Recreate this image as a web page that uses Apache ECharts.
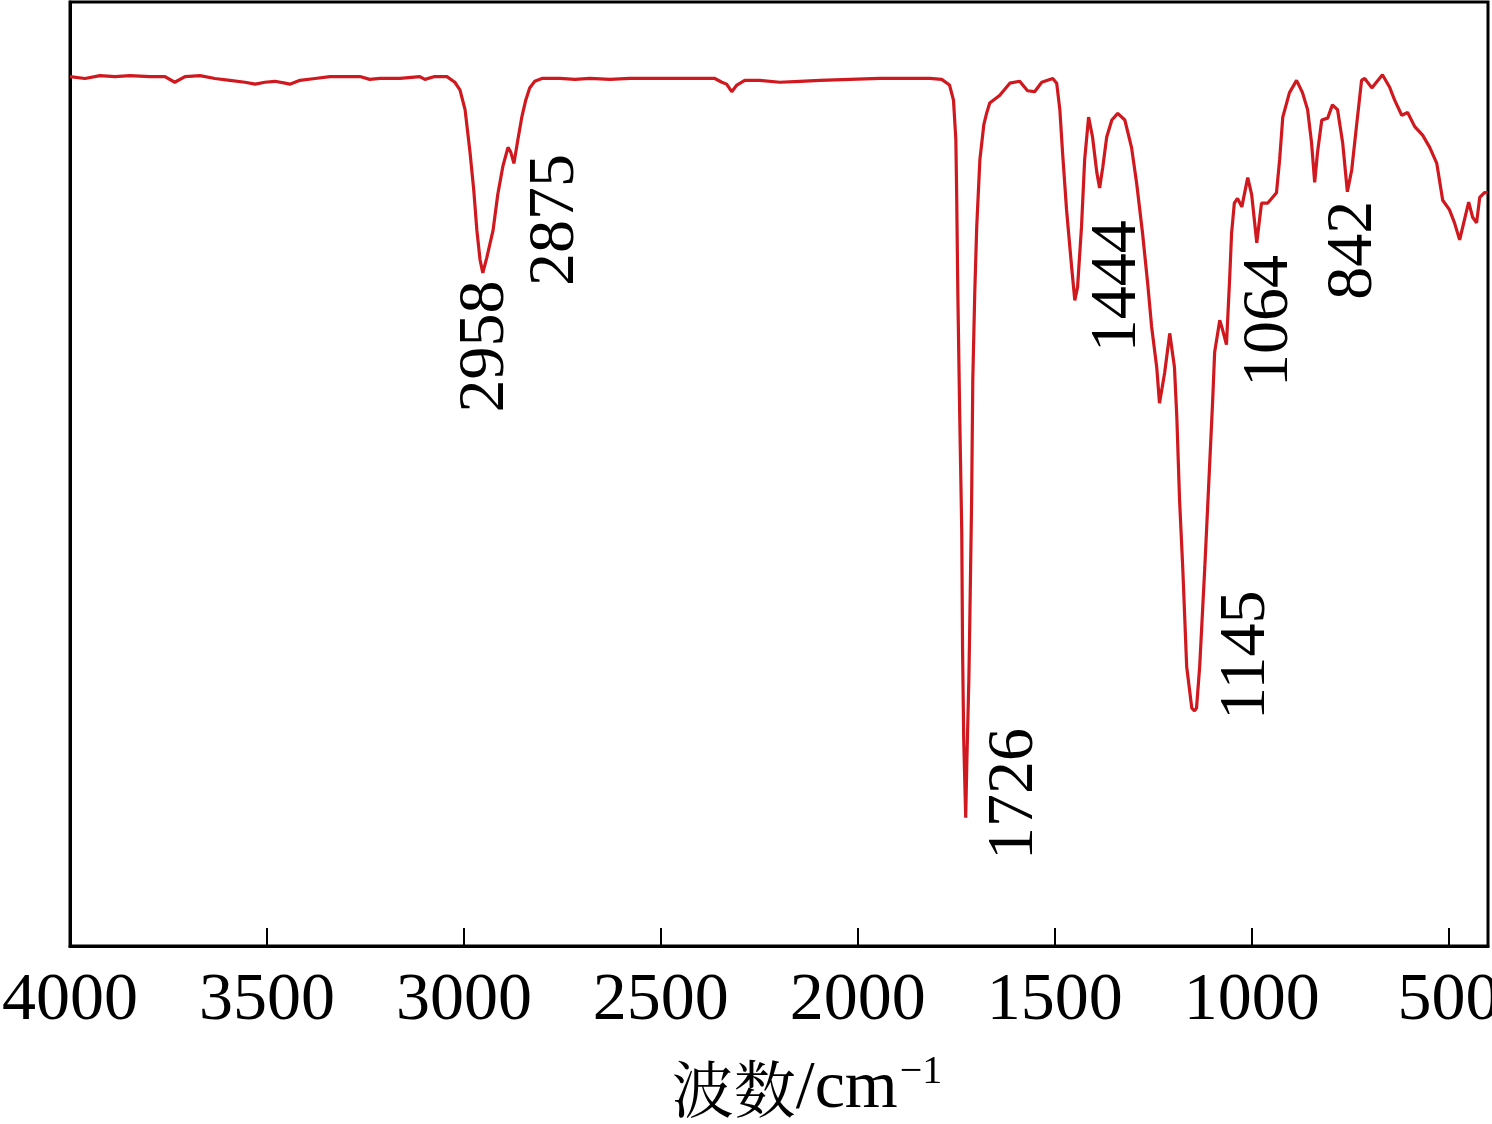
<!DOCTYPE html>
<html>
<head>
<meta charset="utf-8">
<script src="https://cdn.jsdelivr.net/npm/echarts@6/dist/echarts.min.js"></script>
<style>
  html, body { margin: 0; padding: 0; background: #fff; }
  #chart { width: 1492px; height: 1124px; }
</style>
</head>
<body>
<div id="chart"></div>
<script>
// Wavenumber (cm^-1) of each traced point
const wavenumbers = [
  4000, 3962, 3924, 3886, 3848, 3797, 3759, 3734, 3708, 3670, 3632, 3594, 3556, 3530, 3505, 3480, 3454, 3442, 3416, 3378,
  3340, 3264, 3239, 3213, 3162, 3112, 3099, 3074, 3043, 3023, 3010, 2997, 2985, 2975, 2967, 2959, 2952, 2942, 2926, 2914,
  2901, 2888, 2881, 2873, 2863, 2853, 2843, 2833, 2820, 2802, 2756, 2718, 2680, 2629, 2579, 2503, 2426, 2363, 2345, 2333,
  2320, 2307, 2287, 2249, 2198, 2147, 2096, 2020, 1944, 1868, 1817, 1787, 1767, 1757, 1751, 1749, 1746, 1741, 1736, 1734,
  1731, 1726, 1723, 1718, 1716, 1711, 1708, 1703, 1698, 1690, 1680, 1673, 1665, 1640, 1614, 1589, 1579, 1569, 1551, 1533,
  1505, 1495, 1487, 1480, 1470, 1457, 1449, 1442, 1432, 1424, 1414, 1404, 1393, 1386, 1378, 1368, 1355, 1340, 1322, 1305,
  1292, 1277, 1264, 1254, 1241, 1234, 1221, 1208, 1196, 1190, 1183, 1175, 1165, 1152, 1145, 1140, 1132, 1119, 1107, 1099,
  1094, 1081, 1074, 1064, 1056, 1051, 1044, 1036, 1025, 1010, 1000, 987, 975, 959, 937, 929, 921, 904, 886, 871,
  858, 848, 840, 833, 822, 807, 795, 782, 769, 757, 746, 734, 721, 713, 695, 668, 650, 637, 619, 604,
  586, 566, 548, 530, 515, 498, 485, 472, 460, 449, 439, 429, 421, 409, 401
];
// Transmittance (arbitrary %) at each point
const transmittance = [
  92.1, 91.9, 92.2, 92.1, 92.2, 92.1, 92.1, 91.5, 92.1, 92.2, 91.9, 91.7, 91.5, 91.3, 91.5, 91.6, 91.4, 91.3, 91.7, 91.9,
  92.1, 92.1, 91.8, 91.9, 91.9, 92.1, 91.8, 92.1, 92.1, 91.5, 90.7, 88.6, 84.3, 80.1, 75.8, 72.7, 71.3, 72.9, 75.8, 79.6,
  82.6, 84.6, 84.1, 82.9, 85.4, 87.8, 89.6, 90.9, 91.6, 91.9, 91.9, 91.8, 91.9, 91.8, 91.9, 91.9, 91.9, 91.9, 91.5, 91.3,
  90.5, 91.2, 91.7, 91.7, 91.5, 91.6, 91.7, 91.8, 91.9, 91.9, 91.9, 91.8, 91.2, 89.6, 85.4, 79.8, 69.2, 55.7, 43.8, 31.4,
  21.8, 13.6, 19.7, 28.2, 33.2, 47.2, 60.0, 69.2, 76.2, 83.3, 87.0, 88.2, 89.3, 90.1, 91.4, 91.6, 91.1, 90.6, 90.5, 91.5,
  91.9, 91.4, 88.6, 84.0, 78.0, 71.9, 68.4, 69.8, 76.2, 83.3, 87.8, 85.7, 81.9, 80.3, 82.5, 85.7, 87.5, 88.2, 87.5, 84.6,
  80.8, 75.5, 70.2, 65.6, 61.3, 57.5, 60.7, 64.9, 61.3, 56.0, 47.2, 40.1, 29.6, 25.2, 24.9, 25.2, 29.6, 40.1, 50.7, 57.8,
  62.9, 66.3, 65.3, 63.7, 70.6, 75.5, 78.7, 79.2, 78.3, 81.4, 79.6, 74.5, 78.7, 78.7, 79.8, 83.3, 87.8, 90.4, 91.7, 90.4,
  88.6, 85.1, 80.9, 84.0, 87.5, 87.7, 89.1, 88.6, 85.1, 79.9, 82.2, 86.8, 91.7, 91.9, 90.9, 92.3, 91.0, 89.6, 88.0, 88.3,
  86.8, 85.9, 84.6, 82.9, 79.0, 78.0, 76.6, 74.8, 76.9, 78.8, 77.2, 76.6, 79.3, 79.8, 79.8
];
// Peak annotations: text, and where the text sits (wavenumber, transmittance)
const peakLabels = ["2958", "2875", "1726", "1444", "1145", "1064", "842"];
const peakLabelWn = [2944, 2767, 1602, 1340, 1013, 954, 741];
const peakLabelT = [63.5, 76.9, 16.1, 69.9, 30.8, 66.2, 73.7];
// X axis tick values
const xTicks = [500, 1000, 1500, 2000, 2500, 3000, 3500, 4000];

const lineData = wavenumbers.map((w, i) => [w, transmittance[i]]);
const labelData = peakLabels.map((t, i) => ({ value: [peakLabelWn[i], peakLabelT[i]], name: t }));

const chart = echarts.init(document.getElementById('chart'), null, { renderer: 'canvas' });
chart.setOption({
  backgroundColor: '#fff',
  animation: false,
  grid: {
    left: 70, right: 4, top: 2, bottom: 178,
    containLabel: false,
    outerBoundsMode: 'none',
    show: true, borderColor: '#000', borderWidth: 3, backgroundColor: 'transparent'
  },
  xAxis: {
    type: 'value',
    inverse: true,
    min: 400, max: 4000,
    name: '{a|波数}{b|/cm}{c|−1}',
    nameLocation: 'middle',
    nameGap: 106,
    nameTextStyle: {
      padding: [0, 0, 0, 56],
      rich: {
        a: { fontFamily: 'Noto Serif CJK SC, Noto Sans CJK SC', fontSize: 62, color: '#000' },
        b: { fontFamily: 'Liberation Serif', fontSize: 68, color: '#000' },
        c: { fontFamily: 'Liberation Serif', fontSize: 40, color: '#000', verticalAlign: 'top', padding: [0, 0, 34, 2] }
      }
    },
    axisLine: { show: true, onZero: false, lineStyle: { color: '#000', width: 3 } },
    axisTick: { show: true, inside: true, length: 18, lineStyle: { color: '#000', width: 2 }, customValues: xTicks },
    axisLabel: {
      customValues: xTicks,
      margin: 21,
      formatter: v => String(v),
      hideOverlap: false,
      showMinLabel: true,
      showMaxLabel: true,
      fontFamily: 'Liberation Serif',
      fontSize: 68,
      color: '#000'
    },
    splitLine: { show: false }
  },
  yAxis: {
    type: 'value',
    min: 0, max: 100,
    axisLine: { show: true, lineStyle: { color: '#000', width: 3 } },
    axisTick: { show: false },
    axisLabel: { show: false },
    splitLine: { show: false }
  },
  series: [
    {
      type: 'line',
      data: lineData,
      showSymbol: false,
      lineStyle: { color: '#d0181f', width: 3.2 },
      silent: true
    },
    {
      type: 'scatter',
      data: labelData,
      symbolSize: 0,
      silent: true,
      itemStyle: { opacity: 1, color: '#000' },
      label: {
        show: true,
        position: 'inside',
        rotate: 90,
        formatter: p => p.name,
        fontFamily: 'Liberation Serif',
        fontSize: 66,
        color: '#000',
        opacity: 1,
        textBorderWidth: 0
      }
    }
  ]
});
</script>
</body>
</html>
